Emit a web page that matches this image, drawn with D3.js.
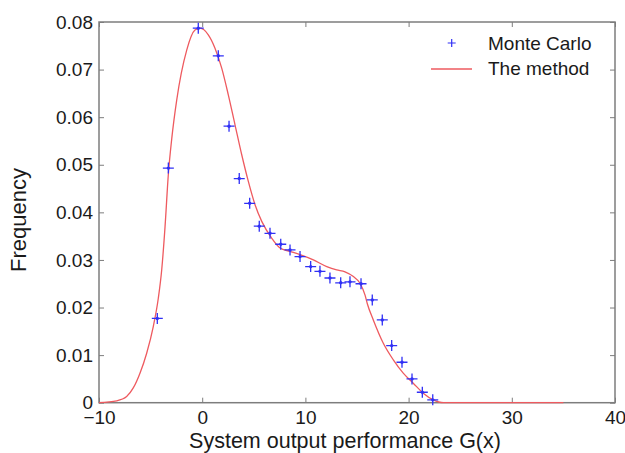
<!DOCTYPE html>
<html>
<head>
<meta charset="utf-8">
<script src="https://cdn.jsdelivr.net/npm/d3@7"></script>
<style>
  body { margin: 0; background: #fff; }
  svg { display: block; font-family: Arial, "Liberation Sans", sans-serif; }
</style>
</head>
<body>
<svg id="chart" width="625" height="453"></svg>
<script>
// Monte Carlo histogram points
const mcX = [-4.35, -3.28, -0.38, 1.56, 2.60, 3.59, 4.60, 5.53, 6.57, 7.61, 8.51, 9.48, 10.51,
  11.41, 12.38, 13.42, 14.32, 15.39, 16.48, 17.45, 18.36, 19.36, 20.33, 21.33, 22.34]
const mcY = [0.0177, 0.0493, 0.0787, 0.0729, 0.0581, 0.0471, 0.0419, 0.0371, 0.0356, 0.0333, 0.0321,
  0.0307, 0.0286, 0.0276, 0.0262, 0.0252, 0.0254, 0.0250, 0.0216, 0.0174, 0.0120, 0.0085, 0.0050,
  0.0022, 0.0006]

// "The method" curve
const fitX = [-10, -8.28, -7.32, -6.68, -6.03, -5.38, -4.74, -4.25, -3.92, -3.60, -3.28, -2.95,
  -2.47, -1.50, -0.70, -0.21, 0.59, 1.24, 1.89, 2.53, 3.18, 3.83, 4.47, 5.12, 5.77, 6.73, 7.54,
  8.51, 9.48, 10.77, 12.07, 13.03, 13.84, 14.65, 15.29, 15.78, 16.0, 16.58, 17.55, 18.52, 19.48,
  20.45, 21.42, 22.39, 23.36, 35]
const fitY = [0, 0.0004, 0.0013, 0.0031, 0.0062, 0.0104, 0.0160, 0.0220, 0.0280, 0.0370, 0.0480,
  0.0555, 0.0636, 0.0741, 0.0783, 0.0787, 0.0773, 0.0745, 0.0703, 0.0647, 0.0584, 0.0521,
  0.0465, 0.0416, 0.0381, 0.0346, 0.0325, 0.0318, 0.0311, 0.0300, 0.0286, 0.0279, 0.0275, 0.0265,
  0.0251, 0.0226, 0.0208, 0.0174, 0.0125, 0.0090, 0.0062, 0.0041, 0.0020, 0.0006, 0, 0]

const xTicks = [-10, 0, 10, 20, 30, 40]
const yTicks = [0, 0.01, 0.02, 0.03, 0.04, 0.05, 0.06, 0.07, 0.08]
const seriesNames = ['Monte Carlo', 'The method']

const plotLeft = 99, plotRight = 615, plotTop = 22, plotBottom = 402.7
const axisColor = '#7d7d7d'
const textColor = '#1a1a1a'
const blue = '#3030f5'
const red = '#ee5a5f'

const svg = d3.select('#chart')

const x = d3.scaleLinear().domain([-10, 40]).range([plotLeft, plotRight])
const y = d3.scaleLinear().domain([0, 0.08]).range([plotBottom, plotTop])

// box
svg.append('rect')
  .attr('x', plotLeft).attr('y', plotTop)
  .attr('width', plotRight - plotLeft).attr('height', plotBottom - plotTop)
  .attr('fill', 'none').attr('stroke', axisColor).attr('stroke-width', 1.5)

// axes with inward ticks
const styleAxis = g => {
  g.select('.domain').remove()
  g.selectAll('line').attr('stroke', axisColor).attr('stroke-width', 1)
  g.selectAll('text').attr('fill', textColor).style('font-size', '19px')
}

svg.append('g')
  .attr('transform', `translate(0,${plotBottom})`)
  .call(d3.axisBottom(x).tickValues(xTicks).tickSize(-5).tickPadding(8).tickFormat(d3.format('d')))
  .call(styleAxis)
svg.append('g')
  .attr('transform', `translate(0,${plotTop})`)
  .call(d3.axisTop(x).tickValues(xTicks).tickSize(-5).tickFormat(''))
  .call(styleAxis)
svg.append('g')
  .attr('transform', `translate(${plotLeft},0)`)
  .call(d3.axisLeft(y).tickValues(yTicks).tickSize(-5).tickPadding(6)
    .tickFormat(d => d === 0 ? '0' : d3.format('.2f')(d)))
  .call(styleAxis)
svg.append('g')
  .attr('transform', `translate(${plotRight},0)`)
  .call(d3.axisRight(y).tickValues(yTicks).tickSize(-5).tickFormat(''))
  .call(styleAxis)

// axis titles
svg.append('text')
  .attr('x', 345).attr('y', 448)
  .attr('text-anchor', 'middle')
  .attr('fill', textColor)
  .style('font-size', '21.5px')
  .text('System output performance G(x)')
svg.append('text')
  .attr('transform', 'translate(26,220) rotate(-90)')
  .attr('text-anchor', 'middle')
  .attr('fill', textColor)
  .style('font-size', '22px')
  .text('Frequency')

// fitted curve
const fitData = fitX.map((v, i) => [v, fitY[i]])
svg.append('path')
  .datum(fitData)
  .attr('fill', 'none')
  .attr('stroke', red)
  .attr('stroke-width', 1.3)
  .attr('d', d3.line().x(d => x(d[0])).y(d => y(d[1])).curve(d3.curveMonotoneX))

// monte carlo markers
const plus = (cx, cy, r) => `M${cx - r},${cy}H${cx + r}M${cx},${cy - r}V${cy + r}`
const mcData = mcX.map((v, i) => [v, mcY[i]])
const marks = svg.append('g')
marks.selectAll('path')
  .data(mcData)
  .enter()
  .append('path')
  .attr('d', d => plus(x(d[0]), y(d[1]), 5.5))
  .attr('stroke', blue)
  .attr('stroke-width', 1.3)
marks.selectAll('circle')
  .data(mcData)
  .enter()
  .append('circle')
  .attr('cx', d => x(d[0]))
  .attr('cy', d => y(d[1]))
  .attr('r', 1.7)
  .attr('fill', blue)

// legend
const legend = svg.append('g')
legend.append('path')
  .attr('d', plus(451.7, 43, 4))
  .attr('stroke', blue).attr('stroke-width', 1.2)
legend.append('line')
  .attr('x1', 431).attr('x2', 472).attr('y1', 69).attr('y2', 69)
  .attr('stroke', red).attr('stroke-width', 1.3)
legend.selectAll('text')
  .data(seriesNames)
  .enter()
  .append('text')
  .attr('x', 488)
  .attr('y', (d, i) => 43 + i * 25)
  .attr('dy', '0.35em')
  .attr('fill', textColor)
  .style('font-size', '19px')
  .text(d => d)
</script>
</body>
</html>
